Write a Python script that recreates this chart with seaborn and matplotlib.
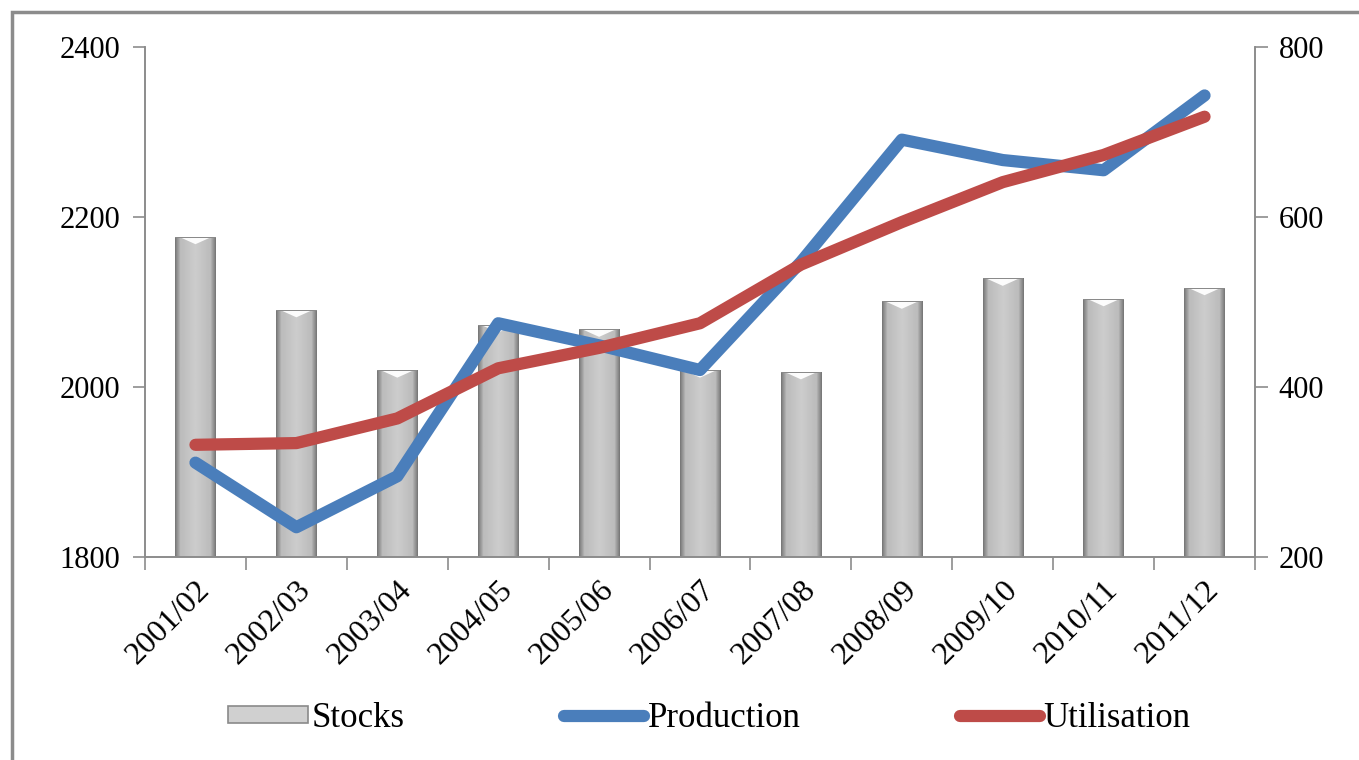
"""Stocks / Production / Utilisation 2001/02-2011/12 — 막대(우축) + 선(좌축)."""
import numpy as np
import pandas as pd
import matplotlib.pyplot as plt
import matplotlib as mpl
import seaborn as sns
from matplotlib.patches import Rectangle, Patch, Polygon
from matplotlib.lines import Line2D

sns.set_theme(style='white')
plt.rcParams.update({
    'font.family': 'serif',
    'font.serif': ['Liberation Serif', 'DejaVu Serif'],
    'font.size': 22,
    'xtick.labelsize': 23, 'ytick.labelsize': 22,
    'text.color': 'black',
    'axes.unicode_minus': False,
})

seasons = ['2001/02', '2002/03', '2003/04', '2004/05', '2005/06', '2006/07',
           '2007/08', '2008/09', '2009/10', '2010/11', '2011/12']
stocks = [577, 491, 420, 473, 468, 420, 418, 501, 528, 504, 517]
production = [1911, 1835, 1895, 2075, 2049, 2020, 2147, 2291, 2267, 2255, 2343]
utilisation = [1932, 1934, 1963, 2022, 2046, 2075, 2144, 2194, 2241, 2273, 2318]

df = pd.DataFrame({'season': seasons, 'Stocks': stocks,
                   'Production': production, 'Utilisation': utilisation})
df['pos'] = np.arange(len(df))

BLUE = '#4a7ebb'
RED = '#be4b48'
SPINE = '#8c8c8c'
FONT = 'Liberation Serif'

fig = plt.figure(figsize=(13.59, 7.60), dpi=100)
ax = fig.add_axes([145 / 1359, 1 - 557 / 760, 1110 / 1359, 510 / 760])
ax2 = ax.twinx()
ax.set_zorder(2)
ax2.set_zorder(1)
ax.patch.set_visible(False)

# 막대 (우축)
sns.barplot(data=df, x='pos', y='Stocks', ax=ax2, width=0.4, color='#c4c4c4',
            native_scale=True, edgecolor='none', saturation=1)
YMIN2 = 200
ax2.set_ylim(YMIN2, 800)
ax2.set_xlim(-0.5, len(df) - 0.5)

# 원통형 그라데이션
prof = np.concatenate([np.linspace(0.48, 0.74, 6), np.linspace(0.74, 0.80, 14),
                       np.linspace(0.80, 0.74, 14), np.linspace(0.74, 0.48, 6)])
grad = np.tile(prof, (2, 1))
for p in list(ax2.patches):
    x0, w = p.get_x(), p.get_width()
    top = p.get_y() + p.get_height()
    p.set_visible(False)
    clip = Rectangle((x0, YMIN2), w, top - YMIN2, transform=ax2.transData,
                     facecolor='none', edgecolor='none')
    im = ax2.imshow(grad, cmap='gray', vmin=0, vmax=1, aspect='auto',
                    extent=[x0, x0 + w, YMIN2, top], zorder=2,
                    interpolation='bilinear')
    im.set_clip_path(clip)
    ax2.add_patch(Polygon([[x0 + w * 0.08, top], [x0 + w * 0.92, top],
                           [x0 + w * 0.5, top - 9]], closed=True,
                          facecolor='white', edgecolor='none', alpha=0.95,
                          zorder=3))
    ax2.add_patch(Rectangle((x0, top - 1.2), w, 1.2, facecolor='#8a8a8a',
                            edgecolor='none', zorder=3))
ax2.set_xlim(-0.5, len(df) - 0.5)
ax2.set_ylim(YMIN2, 800)

# 선 (좌축)
sns.lineplot(data=df, x='pos', y='Production', ax=ax, color=BLUE, lw=8.8,
             sort=False, solid_capstyle='round', solid_joinstyle='round')
sns.lineplot(data=df, x='pos', y='Utilisation', ax=ax, color=RED, lw=8.8,
             sort=False, solid_capstyle='round', solid_joinstyle='round')
ax.set_ylim(1800, 2400)
ax.set_xlim(-0.5, len(df) - 0.5)
ax.set_yticks([1800, 2000, 2200, 2400])
ax2.set_yticks([200, 400, 600, 800])
ax.set_xlabel('')
ax.set_ylabel('')
ax2.set_ylabel('')
ax2.set_xlabel('')

ax.set_xticks(df['pos'])
ax.set_xticklabels(seasons, rotation=45, ha='right', rotation_mode='anchor')
ax.set_xticks(np.arange(-0.5, len(df)), minor=True)
ax.tick_params(axis='x', which='major', length=0, pad=13)
ax.tick_params(axis='x', which='minor', length=9, width=1.2, color=SPINE,
               direction='out', bottom=True)
ax.tick_params(axis='y', length=9, width=1.2, color=SPINE, direction='out',
               left=True, pad=9)
ax2.tick_params(axis='y', length=9, width=1.2, color=SPINE, direction='out',
                right=True, pad=8)
ax2.tick_params(axis='x', bottom=False, labelbottom=False)
for lab in ax.get_xticklabels() + ax.get_yticklabels() + ax2.get_yticklabels():
    lab.set_fontfamily(FONT)
    lab.set_color('black')
for a in (ax, ax2):
    for s in a.spines.values():
        s.set_color(SPINE)
        s.set_linewidth(1.2)
    a.spines['top'].set_visible(False)
    a.grid(False)

# 범례
handles = [Patch(facecolor='#d0d0d0', edgecolor='#8a8a8a', lw=1.2),
           Line2D([0], [0], color=BLUE, lw=8.8, solid_capstyle='round'),
           Line2D([0], [0], color=RED, lw=8.8, solid_capstyle='round')]
leg = fig.legend(handles, ['Stocks', 'Production', 'Utilisation'], ncol=3,
                 loc='center', bbox_to_anchor=(0.522, 0.055), frameon=False,
                 prop={'family': FONT, 'size': 25}, handlelength=2.3,
                 handleheight=0.4, handletextpad=0.1, columnspacing=4.6)
for t in leg.get_texts():
    t.set_color('black')

# 바깥 테두리
fig.add_artist(Rectangle((12 / 1359, -0.1), 1.2, 0.1 + 1 - 12 / 760,
                         transform=fig.transFigure, fill=False,
                         edgecolor='#8c8c8c', lw=2.5, clip_on=False))

fig.savefig('out.png', dpi=100)
plt.close()
